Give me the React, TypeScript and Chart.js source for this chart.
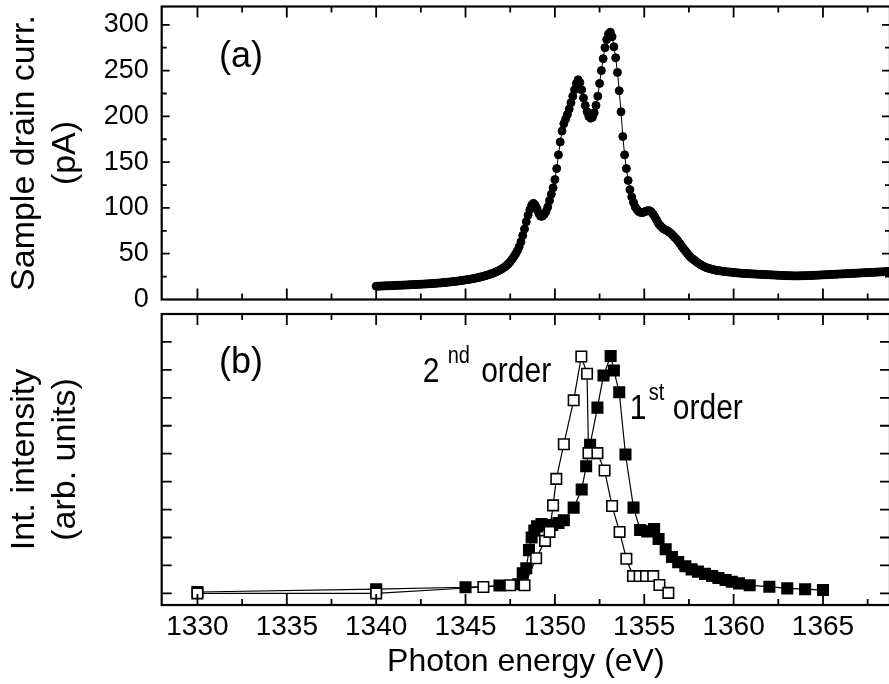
import React, { useEffect, useRef } from 'react';
import { Chart, registerables } from 'chart.js';

Chart.register(...registerables);

const FONT = "'Liberation Sans', Arial, Helvetica, sans-serif";

// ---------- Panel (a): sample drain current, uniform 0.1 eV scan ----------
const sdcStartEnergy = 1340;
const sdcStepEnergy = 0.1;
const sdcCurrent = [
  14.5, 14.6, 14.6, 14.7, 14.8, 14.9, 15.0, 15.0, 15.1, 15.2,
  15.3, 15.4, 15.5, 15.5, 15.6, 15.7, 15.8, 15.9, 16.0, 16.1,
  16.2, 16.3, 16.4, 16.5, 16.6, 16.7, 16.8, 16.9, 17.0, 17.1,
  17.3, 17.4, 17.5, 17.7, 17.8, 18.0, 18.1, 18.3, 18.5, 18.7,
  18.9, 19.1, 19.3, 19.5, 19.7, 20.0, 20.2, 20.5, 20.8, 21.1,
  21.4, 21.7, 22.0, 22.3, 22.7, 23.1, 23.5, 23.9, 24.4, 24.9,
  25.4, 25.9, 26.5, 27.1, 27.8, 28.5, 29.3, 30.1, 31.0, 32.0,
  33.1, 34.3, 35.6, 37.2, 39.0, 41.2, 43.8, 46.6, 49.8, 53.3,
  57.5, 63, 70, 77, 85, 92, 98, 103, 105, 103,
  99, 94, 91, 91, 93, 96, 101, 108, 115, 122,
  131, 143, 158, 172, 184, 192, 197, 202, 208, 215,
  222, 229, 236, 240, 237, 229, 220, 212, 205, 200,
  198, 199, 204, 212, 222, 236, 250, 263, 275, 284,
  290, 292, 287, 276, 264, 248, 228, 205, 178, 158,
  143, 130, 120, 112, 106, 101, 98, 96, 95, 95,
  95.5, 96.5, 97, 97, 95.5, 93, 90, 86.5, 83, 80.5,
  78.5, 77, 76, 75, 73.5, 72, 70, 68, 66, 63.5,
  61, 58, 55.5, 53, 50.5, 48, 46, 44.5, 43, 41.5,
  40, 38.7, 37.5, 36.5, 35.5, 34.7, 34, 33.5, 33, 32.5,
  32, 31.7, 31.4, 31.1, 30.8, 30.5, 30.3, 30.1, 29.9, 29.7,
  29.5, 29.3, 29.1, 28.9, 28.8, 28.6, 28.5, 28.3, 28.2, 28.1,
  28, 27.9, 27.8, 27.7, 27.6, 27.5, 27.4, 27.3, 27.2, 27.1,
  27, 26.9, 26.8, 26.7, 26.6, 26.5, 26.4, 26.3, 26.2, 26.1,
  26, 26, 25.9, 25.9, 25.8, 25.8, 25.8, 25.9, 25.9, 26,
  26, 26.1, 26.1, 26.2, 26.3, 26.4, 26.5, 26.6, 26.7, 26.8,
  26.9, 27, 27.1, 27.2, 27.3, 27.4, 27.5, 27.6, 27.7, 27.8,
  27.9, 28, 28.1, 28.2, 28.3, 28.4, 28.5, 28.6, 28.7, 28.8,
  28.9, 29, 29.1, 29.2, 29.3, 29.4, 29.5, 29.6, 29.7, 29.8,
  29.9, 30, 30.1, 30.2, 30.3, 30.4, 30.5, 30.6,
];

// ---------- Panel (b): integrated intensity ----------
const firstOrderEnergy = [
  1330, 1340, 1345.0, 1346.9, 1347.95, 1348.2, 1348.4, 1348.55, 1348.7, 1348.85,
  1349.0, 1349.25, 1349.5, 1349.85, 1350.2, 1350.5, 1351.05, 1351.5, 1351.75, 1351.97,
  1352.38, 1352.72, 1353.12, 1353.3, 1353.6, 1353.95, 1354.4, 1354.77, 1355.17, 1355.55,
  1355.8, 1356.2, 1356.55, 1356.9, 1357.3, 1357.65, 1358.0, 1358.4, 1358.8, 1359.15,
  1359.55, 1359.9, 1360.3, 1360.9, 1362.0, 1363.0, 1364.0, 1365.0,
];
const firstOrderIntensity = [
  0.05, 0.15, 0.22, 0.28, 0.33, 0.72, 0.9, 1.55, 2.0, 2.25,
  2.4, 2.48, 2.45, 2.45, 2.52, 2.62, 3.07, 3.72, 4.55, 5.32,
  6.65, 7.8, 8.5, 7.98, 7.2, 4.97, 3.07, 2.27, 2.22, 2.3,
  1.95, 1.58, 1.3, 1.12, 0.97, 0.86, 0.78, 0.7, 0.62, 0.55,
  0.48, 0.42, 0.36, 0.29, 0.24, 0.18, 0.15, 0.12,
];
const secondOrderEnergy = [
  1330, 1340, 1346.0, 1347.5, 1348.3, 1348.95, 1349.45, 1349.7, 1349.9, 1350.08,
  1350.5, 1351.05, 1351.48, 1351.8, 1351.88, 1352.38, 1352.78, 1353.2, 1353.62, 1354.0,
  1354.37, 1354.74, 1355.1, 1355.5, 1355.85, 1356.35,
];
const secondOrderIntensity = [
  0.0, 0.0, 0.23, 0.29, 0.29, 1.26, 1.88, 2.2, 3.15, 4.1,
  5.34, 6.91, 8.48, 7.86, 5.02, 5.02, 4.4, 3.13, 2.2, 1.24,
  0.62, 0.62, 0.62, 0.62, 0.3, 0.02,
];

// axis ranges / ticks
const energyMin = 1328;
const energyMax = 1368.75;
const energyStep = 2.5;
const energyLabelStep = 5;
const currentMin = 0;
const currentMax = 320;
const currentStep = 25;
const currentLabelStep = 50;
const intensityMin = -0.415;
const intensityMax = 10;
const intensityStep = 1;

const xTitle = 'Photon energy (eV)';
const yTitleA = ['Sample drain curr.', '(pA)'];
const yTitleB = ['Int. intensity', '(arb. units)'];

const isMult = (v: number, m: number) => Math.abs(v / m - Math.round(v / m)) < 1e-6;

function framePlugin(yMajor: (v: number) => boolean, yMajorLen: number, yMinorLen: number) {
  return {
    id: 'frame',
    afterDatasetsDraw(chart: any) {
      const { ctx, chartArea: a, scales } = chart;
      const xs = scales.x;
      const ys = scales.y;
      ctx.save();
      ctx.strokeStyle = '#000';
      ctx.lineWidth = 1.8;
      ctx.beginPath();
      xs.ticks.forEach((t: any) => {
        const px = xs.getPixelForValue(t.value);
        if (px < a.left + 1 || px > a.right - 1) return;
        const len = isMult(t.value, energyLabelStep) ? 11 : 6;
        ctx.moveTo(px, a.bottom);
        ctx.lineTo(px, a.bottom - len);
        ctx.moveTo(px, a.top);
        ctx.lineTo(px, a.top + len);
      });
      ys.ticks.forEach((t: any) => {
        const py = ys.getPixelForValue(t.value);
        if (py < a.top + 1 || py > a.bottom - 1) return;
        const len = yMajor(t.value) ? yMajorLen : yMinorLen;
        ctx.moveTo(a.left, py);
        ctx.lineTo(a.left + len, py);
        ctx.moveTo(a.right, py);
        ctx.lineTo(a.right - len, py);
      });
      ctx.stroke();
      ctx.lineWidth = 2.2;
      ctx.strokeRect(a.left, a.top, a.right - a.left, a.bottom - a.top);
      ctx.restore();
    },
  };
}

function drawText(ctx: CanvasRenderingContext2D, text: string, x: number, y: number, size: number, sy: number) {
  ctx.save();
  ctx.translate(x, y);
  ctx.scale(1, sy);
  ctx.font = `${size}px ${FONT}`;
  ctx.fillText(text, 0, 0);
  ctx.restore();
}

function textPlugin(draw: (ctx: CanvasRenderingContext2D, xs: any, ys: any) => void) {
  return {
    id: 'annot',
    afterDraw(chart: any) {
      const { ctx, scales } = chart;
      ctx.save();
      ctx.fillStyle = '#000';
      ctx.textBaseline = 'alphabetic';
      ctx.textAlign = 'left';
      draw(ctx, scales.x, scales.y);
      ctx.restore();
    },
  };
}

const commonX = (showLabels: boolean, fitHeight: number) => ({
  type: 'linear' as const,
  min: energyMin,
  max: energyMax,
  grid: { display: false, drawTicks: false },
  border: { display: false },
  ticks: {
    display: showLabels,
    stepSize: energyStep,
    includeBounds: false,
    autoSkip: false,
    maxRotation: 0,
    minRotation: 0,
    padding: 5,
    color: '#000',
    font: { family: FONT, size: 28 },
    callback: (v: any) => (isMult(Number(v), energyLabelStep) ? String(Math.round(Number(v))) : ''),
  },
  title: showLabels
    ? { display: true, text: xTitle, color: '#000', font: { family: FONT, size: 32 }, padding: { top: 0, bottom: 3 } }
    : { display: false },
  afterFit: (scale: any) => {
    scale.height = fitHeight;
    scale.paddingLeft = 0;
    scale.paddingRight = 0;
  },
});

const yTitle = (text: string[]) => ({
  display: true,
  text,
  color: '#000',
  font: { family: FONT, size: 34, lineHeight: 41 / 34 },
  padding: { top: 4.5, bottom: 0 },
});

const fitY = (scale: any) => {
  scale.width = 161.7;
  scale.paddingTop = 0;
  scale.paddingBottom = 0;
};

export default function App() {
  const refA = useRef<HTMLCanvasElement | null>(null);
  const refB = useRef<HTMLCanvasElement | null>(null);

  useEffect(() => {
    const sdcData = sdcCurrent.map((v, i) => ({ x: sdcStartEnergy + i * sdcStepEnergy, y: v }));
    const firstData = firstOrderEnergy.map((e, i) => ({ x: e, y: firstOrderIntensity[i] }));
    const secondData = secondOrderEnergy.map((e, i) => ({ x: e, y: secondOrderIntensity[i] }));

    const chartA = new Chart(refA.current as HTMLCanvasElement, {
      type: 'line',
      data: {
        datasets: [
          {
            data: sdcData,
            borderColor: '#000',
            borderWidth: 1,
            backgroundColor: '#000',
            pointBackgroundColor: '#000',
            pointBorderColor: '#000',
            pointRadius: 4,
            pointBorderWidth: 1,
            pointStyle: 'circle',
            tension: 0,
            fill: false,
          },
        ],
      },
      options: {
        responsive: false,
        animation: false,
        events: [],
        layout: { padding: { top: 6.5, right: 10, bottom: 20.5, left: 0 } },
        plugins: { legend: { display: false }, tooltip: { enabled: false } },
        scales: {
          x: commonX(false, 0),
          y: {
            type: 'linear',
            min: currentMin,
            max: currentMax,
            grid: { display: false, drawTicks: false },
            border: { display: false },
            ticks: {
              stepSize: currentStep,
              includeBounds: false,
              autoSkip: false,
              padding: 13,
              color: '#000',
              font: { family: FONT, size: 27 },
              callback: (v: any) => (isMult(Number(v), currentLabelStep) ? String(Math.round(Number(v))) : ''),
            },
            title: yTitle(yTitleA),
            afterFit: fitY,
          },
        },
      },
      plugins: [
        framePlugin((v) => isMult(v, currentLabelStep), 8, 5),
        textPlugin((ctx, xs, ys) => {
          drawText(ctx, '(a)', xs.getPixelForValue(1331.2), ys.getPixelForValue(253.5), 36, 1.05);
        }),
      ],
    } as any);

    const chartB = new Chart(refB.current as HTMLCanvasElement, {
      type: 'line',
      data: {
        datasets: [
          {
            data: secondData,
            borderColor: '#000',
            borderWidth: 1.2,
            pointBackgroundColor: '#fff',
            pointBorderColor: '#000',
            pointRadius: 7.4,
            pointBorderWidth: 1.6,
            pointStyle: 'rect',
            tension: 0,
            fill: false,
          },
          {
            data: firstData,
            borderColor: '#000',
            borderWidth: 1.2,
            pointBackgroundColor: '#000',
            pointBorderColor: '#000',
            pointRadius: 7.4,
            pointBorderWidth: 1.6,
            pointStyle: 'rect',
            tension: 0,
            fill: false,
          },
        ],
      },
      options: {
        responsive: false,
        animation: false,
        events: [],
        layout: { padding: { top: 6.7, right: 10, bottom: 0, left: 0 } },
        plugins: { legend: { display: false }, tooltip: { enabled: false } },
        scales: {
          x: commonX(true, 79),
          y: {
            type: 'linear',
            min: intensityMin,
            max: intensityMax,
            grid: { display: false, drawTicks: false },
            border: { display: false },
            ticks: {
              display: false,
              stepSize: intensityStep,
              includeBounds: false,
              autoSkip: false,
            },
            title: yTitle(yTitleB),
            afterFit: fitY,
          },
        },
      },
      plugins: [
        framePlugin(() => true, 10, 10),
        textPlugin((ctx, xs, ys) => {
          drawText(ctx, '(b)', xs.getPixelForValue(1331.2), ys.getPixelForValue(7.9), 36, 1.05);
          // 2nd order
          const x2 = xs.getPixelForValue(1342.6);
          const y2 = ys.getPixelForValue(7.58);
          drawText(ctx, '2', x2, y2, 30, 1.15);
          drawText(ctx, 'order', x2 + 58.5, y2, 30, 1.15);
          drawText(ctx, 'nd', x2 + 25, y2 - 19, 20, 1.15);
          // 1st order
          const x1 = xs.getPixelForValue(1354.19);
          const y1 = ys.getPixelForValue(6.23);
          drawText(ctx, '1', x1, y1, 30, 1.15);
          drawText(ctx, 'order', x1 + 43, y1, 30, 1.15);
          drawText(ctx, 'st', x1 + 19, y1 - 19, 20, 1.15);
        }),
      ],
    } as any);

    return () => {
      chartA.destroy();
      chartB.destroy();
    };
  }, []);

  return (
    <div
      style={{
        position: 'absolute',
        left: 0,
        top: 0,
        width: 889,
        height: 684,
        overflow: 'hidden',
        background: '#fff',
      }}
    >
      <canvas ref={refA} width={900} height={320} style={{ position: 'absolute', left: 0, top: 0 }} />
      <canvas ref={refB} width={900} height={379} style={{ position: 'absolute', left: 0, top: 305 }} />
    </div>
  );
}
